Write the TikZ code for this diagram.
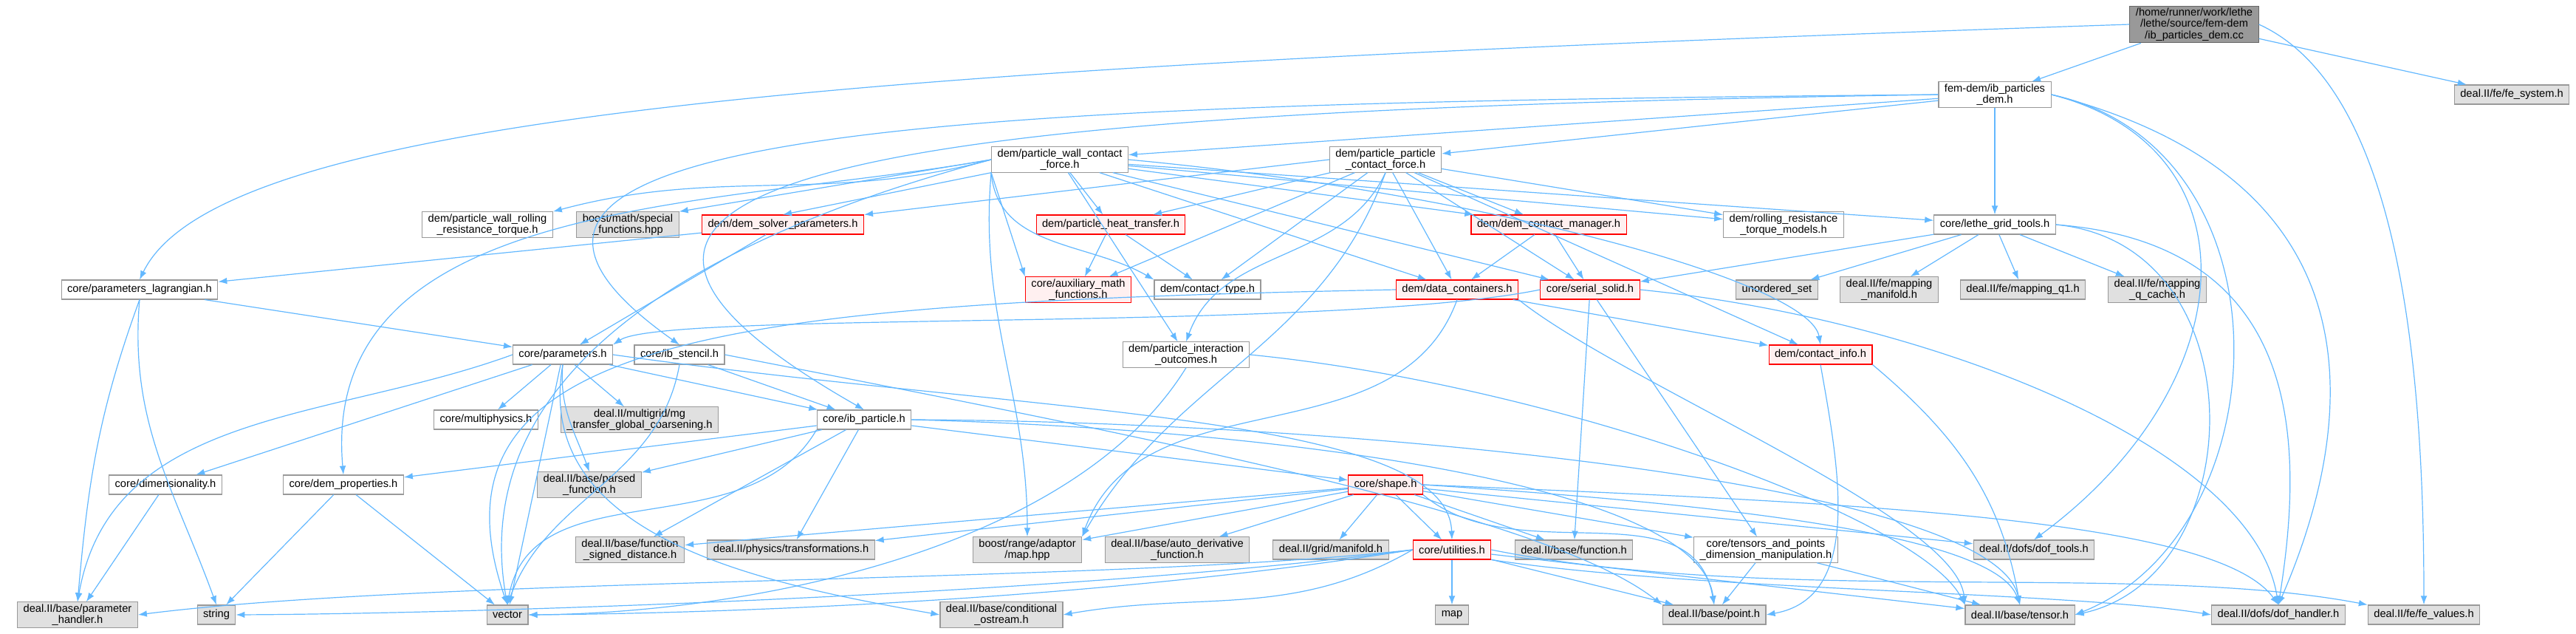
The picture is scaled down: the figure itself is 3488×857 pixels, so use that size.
\documentclass[tikz,border=0pt]{standalone}
\usepackage{fontspec}
\setmainfont{Liberation Sans}
\usetikzlibrary{arrows.meta}

\definecolor{edgeblue}{HTML}{63B8FF}
\definecolor{boxgray}{HTML}{E0E0E0}
\definecolor{bordergray}{HTML}{999999}
\definecolor{mainfill}{HTML}{999999}
\definecolor{mainborder}{HTML}{666666}
\definecolor{redfill}{HTML}{FFF0F0}

\tikzset{
  file/.style={draw=bordergray, fill=white, line width=0.8pt, align=center,
    inner xsep=6pt, inner ysep=2pt, minimum height=19.5pt,
    font=\fontsize{11}{11.5}\selectfont},
  sysfile/.style={file, fill=boxgray},
  redfile/.style={file, draw=red, fill=redfill},
  mainfile/.style={file, draw=mainborder, fill=mainfill},
  dep/.style={draw=edgeblue, line width=0.9pt, -{Latex[length=9pt,width=6.5pt]}},
}

\begin{document}
\begin{tikzpicture}[x=0.75pt, y=-0.75pt]
        \useasboundingbox (0,0) rectangle (3488,857);

        % --- top: source file and its own header ---
        \node[mainfile] (cc) at (2971,33) {/home/runner/work/lethe\\/lethe/source/fem-dem\\/ib\_particles\_dem.cc};
        \node[file] (ibh) at (2701,128) {fem-dem/ib\_particles\\\_dem.h};
        \node[sysfile] (fesys) at (3401,128) {deal.II/fe/fe\_system.h};

        % --- contact force headers ---
        \node[file] (pwcf) at (1435,216) {dem/particle\_wall\_contact\\\_force.h};
        \node[file] (ppcf) at (1876,216) {dem/particle\_particle\\\_contact\_force.h};

        \node[file] (pwrr) at (660,304) {dem/particle\_wall\_rolling\\\_resistance\_torque.h};
        \node[sysfile] (bsf) at (850,304) {boost/math/special\\\_functions.hpp};
        \node[redfile] (dsp) at (1060,304) {dem/dem\_solver\_parameters.h};
        \node[redfile] (pht) at (1504,304) {dem/particle\_heat\_transfer.h};
        \node[redfile] (dcm) at (2097,304) {dem/dem\_contact\_manager.h};
        \node[file] (rrtm) at (2415,304) {dem/rolling\_resistance\\\_torque\_models.h};
        \node[file] (lgt) at (2701,304) {core/lethe\_grid\_tools.h};

        \node[file] (pl) at (189,392) {core/parameters\_lagrangian.h};
        \node[redfile] (amf) at (1460,392) {core/auxiliary\_math\\\_functions.h};
        \node[file] (ct) at (1635,392) {dem/contact\_type.h};
        \node[redfile] (dc) at (1973,392) {dem/data\_containers.h};
        \node[redfile] (ss) at (2153,392) {core/serial\_solid.h};
        \node[sysfile] (us) at (2406,392) {unordered\_set};
        \node[sysfile] (mm) at (2558,392) {deal.II/fe/mapping\\\_manifold.h};
        \node[sysfile] (mq1) at (2739,392) {deal.II/fe/mapping\_q1.h};
        \node[sysfile] (mqc) at (2921,392) {deal.II/fe/mapping\\\_q\_cache.h};

        \node[file] (par) at (762,480) {core/parameters.h};
        \node[file] (ibs) at (920,480) {core/ib\_stencil.h};
        \node[file] (pio) at (1606,480) {dem/particle\_interaction\\\_outcomes.h};
        \node[redfile] (ci) at (2465,480) {dem/contact\_info.h};

        \node[file] (mp) at (658,568) {core/multiphysics.h};
        \node[sysfile] (mg) at (866,568) {deal.II/multigrid/mg\\\_transfer\_global\_coarsening.h};
        \node[file] (ibp) at (1170,568) {core/ib\_particle.h};

        \node[file] (dim) at (224,656) {core/dimensionality.h};
        \node[file] (dp) at (465,656) {core/dem\_properties.h};
        \node[sysfile] (pf) at (798,656) {deal.II/base/parsed\\\_function.h};
        \node[redfile] (shape) at (1876,656) {core/shape.h};

        \node[sysfile] (fsd) at (853,744) {deal.II/base/function\\\_signed\_distance.h};
        \node[sysfile] (tr) at (1071,744) {deal.II/physics/transformations.h};
        \node[sysfile] (bmap) at (1391,744) {boost/range/adaptor\\/map.hpp};
        \node[sysfile] (adf) at (1594,744) {deal.II/base/auto\_derivative\\\_function.h};
        \node[sysfile] (man) at (1802,744) {deal.II/grid/manifold.h};
        \node[redfile] (ut) at (1966,744) {core/utilities.h};
        \node[sysfile] (fn) at (2131,744) {deal.II/base/function.h};
        \node[file] (tp) at (2391,744) {core/tensors\_and\_points\\\_dimension\_manipulation.h};
        \node[sysfile] (dt) at (2754,744) {deal.II/dofs/dof\_tools.h};

        % --- bottom row ---
        \node[sysfile] (ph) at (105,832) {deal.II/base/parameter\\\_handler.h};
        \node[sysfile] (str) at (293,832) {string};
        \node[sysfile] (vec) at (687,832) {vector};
        \node[sysfile] (cos) at (1356,832) {deal.II/base/conditional\\\_ostream.h};
        \node[sysfile] (map) at (1966,832) {map};
        \node[sysfile] (pt) at (2321,832) {deal.II/base/point.h};
        \node[sysfile] (ten) at (2735,832) {deal.II/base/tensor.h};
        \node[sysfile] (dh) at (3085,832) {deal.II/dofs/dof\_handler.h};
        \node[sysfile] (fv) at (3282,832) {deal.II/fe/fe\_values.h};

        % --- straight includes ---
        \foreach \s/\t in {cc/ibh, cc/fesys, ibh/pwcf, ibh/ppcf, ibh/lgt,
            pwcf/pht, pwcf/dcm, pwcf/dc, pwcf/ss,
            pwcf/rrtm, pwcf/lgt, pwcf/pio,
            ppcf/pht, ppcf/amf, ppcf/ct, ppcf/dcm, ppcf/dc, ppcf/ss,
            ppcf/rrtm, ppcf/ci,
            dsp/pl, dsp/par, pht/amf, pht/ct, dcm/dc, dcm/ss, dc/ci,
            lgt/ss, lgt/us, lgt/mm, lgt/mq1, lgt/mqc,
            pl/par, par/mp, par/mg, par/ibp, par/dim, par/vec, ibs/ibp,
            ibp/dp, ibp/pf, ibp/fsd, ibp/tr, ibp/shape, dp/str, dp/vec, dim/ph,
            shape/man, shape/ut, shape/fn, shape/tp, shape/dt, shape/adf,
            shape/bmap, shape/fsd, shape/tr,
            ut/map, ut/pt, ut/ten, tp/pt, tp/ten, ss/fn, ss/tp}
            \draw[dep] (\s) -- (\t);

        % --- bent includes ---
        \draw[dep] (pwcf.west) to[out=195,in=15] (pwrr.north east);
        \draw[dep] (pwcf.west) -- (bsf.north east);
        \draw[dep] (pwcf.south west) -- (dsp.north);
        \draw[dep] (ppcf.west) -- (dsp.north east);
        \draw[dep] (pwcf.south west) -- (amf.north west);
        \draw[dep] (pwcf.south west) to[out=-85,in=150] (ct.north west);
        \draw[dep] (pwcf.south west) to[out=-95,in=90] (bmap.north);
        \draw[dep] (pwcf.west) to[out=190,in=95] (dp.north);
        \draw[dep] (pwcf.west) to[out=195,in=100] (vec.north);
        \draw[dep] (pwcf.east) .. controls (2000,260) and (2450,380) .. (ci.north);
        \draw[dep] (ppcf.south) to[out=-115,in=70] (pio.north);
        \draw[dep] (ppcf.south) to[out=-110,in=60] (bmap.north east);

        \draw[dep] (cc.west) .. controls (1200,90) and (300,150) .. (pl.north);
        \draw[dep] (cc.east) .. controls (3250,120) and (3282,500) .. (fv.north);
        \draw[dep] (ibh.west) .. controls (1300,140) and (500,170) .. (ibs.north);
        \draw[dep] (ibh.west) .. controls (1200,150) and (600,230) .. (ibp.north);
        \draw[dep] (ibh.east) .. controls (3060,200) and (3040,520) .. (dt.north);
        \draw[dep] (ibh.east) .. controls (3110,200) and (3090,720) .. (ten.east);
        \draw[dep] (ibh.east) .. controls (3250,250) and (3180,600) .. (dh.north);
        \draw[dep] (lgt.east) .. controls (3060,330) and (3050,780) .. (ten.east);
        \draw[dep] (lgt.east) .. controls (3120,330) and (3120,600) .. (dh.north);

        \draw[dep] (pl.south) to[out=-110,in=85] (ph.north);
        \draw[dep] (pl.south) to[out=-95,in=110] (str.north);
        \draw[dep] (par.west) to[out=200,in=80] (ph.north);
        \draw[dep] (par.south) to[out=-95,in=110] (pf.north);
        \draw[dep] (par.south) to[out=-100,in=170] (cos.west);
        \draw[dep] (par.east) .. controls (1400,560) and (1960,560) .. (ut.north);

        \draw[dep] (ss.west) .. controls (1800,450) and (900,420) .. (par.north east);
        \draw[dep] (ss.east) .. controls (2600,430) and (3050,600) .. (dh.north);
        \draw[dep] (dc.west) .. controls (1000,410) and (560,450) .. (vec.north);
        \draw[dep] (dc.south) to[out=-110,in=70] (bmap.north east);
        \draw[dep] (dc.south east) .. controls (2200,520) and (2650,700) .. (ten.north west);
        \draw[dep] (pio.south) .. controls (1450,750) and (1000,830) .. (vec.east);
        \draw[dep] (pio.east) .. controls (2100,520) and (2600,700) .. (ten.north west);
        \draw[dep] (ci.south east) to[out=-40,in=100] (ten.north);
        \draw[dep] (ci.south) to[out=-80,in=10] (pt.east);

        \draw[dep] (ibs.east) .. controls (1600,600) and (2100,700) .. (pt.north west);
        \draw[dep] (ibs.south) to[out=-100,in=70] (vec.north);
        \draw[dep] (ibp.east) .. controls (1700,580) and (2300,650) .. (pt.north);
        \draw[dep] (ibp.east) .. controls (1800,570) and (2700,650) .. (ten.north);
        \draw[dep] (ibp.south west) to[out=-120,in=80] (vec.north);

        \draw[dep] (shape.east) .. controls (2500,680) and (3000,700) .. (dh.north);
        \draw[dep] (shape.east) .. controls (2300,680) and (2700,720) .. (ten.north);
        \draw[dep] (shape.south east) to[out=-40,in=100] (pt.north);

        \draw[dep] (ut.south east) .. controls (2300,800) and (2800,800) .. (dh.west);
        \draw[dep] (ut.east) .. controls (2400,820) and (2900,760) .. (fv.north west);
        \draw[dep] (ut.west) .. controls (1500,790) and (600,780) .. (ph.east);
        \draw[dep] (ut.west) .. controls (1500,800) and (700,830) .. (str.east);
        \draw[dep] (ut.west) .. controls (1500,810) and (1000,830) .. (vec.east);
        \draw[dep] (ut.west) to[out=210,in=10] (cos.east);
\end{tikzpicture}
\end{document}
